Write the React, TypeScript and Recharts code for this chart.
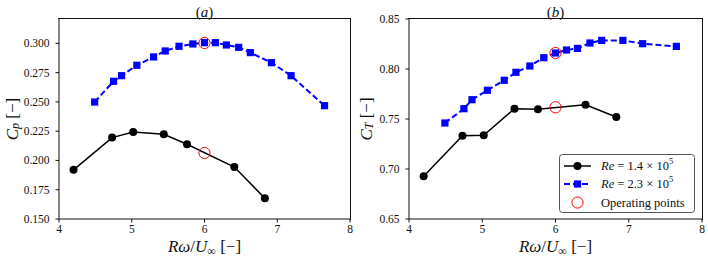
import React from 'react';
import { ComposedChart, Line, Scatter, XAxis, YAxis, Label } from 'recharts';

const tsrLow = [4.2, 4.73, 5.02, 5.44, 5.76, 6.41, 6.83];
const cpLow = [0.192, 0.2195, 0.2243, 0.2223, 0.2138, 0.1944, 0.1677];
const ctLow = [0.6927, 0.7333, 0.7337, 0.7603, 0.7597, 0.7643, 0.752];

const tsrHigh = [4.49, 4.75, 4.86, 5.07, 5.3, 5.46, 5.65, 5.84, 6.0, 6.15, 6.3, 6.47, 6.63, 6.92, 7.19, 7.65];
const cpHigh = [0.2499, 0.2676, 0.2724, 0.2813, 0.2884, 0.2935, 0.2975, 0.2995, 0.3006, 0.3006, 0.2986, 0.2966, 0.2921, 0.2835, 0.2724, 0.2468];
const ctHigh = [0.746, 0.7603, 0.7693, 0.7787, 0.7887, 0.7967, 0.803, 0.8113, 0.816, 0.819, 0.8206, 0.826, 0.8286, 0.8286, 0.8253, 0.8226];

const opTsr = [6.0, 6.0];
const opCp = [0.2064, 0.3003];
const opCt = [0.7617, 0.816];

const xTicks = [4, 5, 6, 7, 8];
const cpTicks = [0.15, 0.175, 0.2, 0.225, 0.25, 0.275, 0.3];
const ctTicks = [0.65, 0.7, 0.75, 0.8, 0.85];

const FONT = '"Liberation Serif", "Times New Roman", serif';
const AX = '#111';
const CHART_W = 354;
const CHART_H = 259;
const TOP = 19;
const XAXIS_H = 40;
const PLOT_H = CHART_H - TOP - XAXIS_H;

const zip = (xs: number[], ys: number[]) => xs.map((x, i) => ({ x, y: ys[i] }));

const blackDot = (p: any) => <circle key={`b${p.index}`} cx={p.cx} cy={p.cy} r={4} fill="#000" stroke="none" />;
const blueDot = (p: any) => <rect key={`s${p.index}`} x={p.cx - 3.6} y={p.cy - 3.6} width={7.2} height={7.2} fill="#0000ff" stroke="none" />;
const redCircle = (p: any) => <circle cx={p.cx} cy={p.cy} r={5.6} fill="none" stroke="#ff0000" strokeWidth={1} />;

const XTick = (p: any) => (
  <text x={p.x} y={p.y} dy="0.71em" textAnchor="middle" fontFamily={FONT} fontSize={11.5} fill="#111">
    {p.payload.value}
  </text>
);

const makeYTick = (digits: number) => (p: any) => (
  <text x={p.x} y={p.y} textAnchor="end" dominantBaseline="central" fontFamily={FONT} fontSize={11.5} fill="#111">
    {Number(p.payload.value).toFixed(digits)}
  </text>
);

const XLabel = (props: any) => {
  const vb = props.viewBox;
  return (
    <text x={vb.x + vb.width / 2} y={vb.y + 33} textAnchor="middle" fontFamily={FONT} fontSize={17} fill="#111">
      <tspan fontStyle="italic">Rω</tspan>/<tspan fontStyle="italic">U</tspan>
      <tspan fontSize={12} dy={3}>∞</tspan>
      <tspan dy={-3}> [−]</tspan>
    </text>
  );
};

const makeYLabel = (sub: string) => (props: any) => {
  const vb = props.viewBox;
  const cx = 12;
  const cy = vb.y + vb.height / 2;
  return (
    <text x={cx} y={cy} transform={`rotate(-90, ${cx}, ${cy})`} textAnchor="middle" dominantBaseline="central" fontFamily={FONT} fontSize={17} fill="#111">
      <tspan fontStyle="italic">C</tspan>
      <tspan fontStyle="italic" fontSize={12} dy={3}>{sub}</tspan>
      <tspan dy={-3}> [−]</tspan>
    </text>
  );
};

type PanelProps = {
  title: string;
  low: number[];
  high: number[];
  op: number[];
  domain: [number, number];
  ticks: number[];
  digits: number;
  sub: string;
  yWidth: number;
  rightMargin: number;
};

const Panel = ({ title, low, high, op, domain, ticks, digits, sub, yWidth, rightMargin }: PanelProps) => {
  const lowData = zip(tsrLow, low);
  const highData = zip(tsrHigh, high);
  const opData = zip(opTsr, op);
  const plotW = CHART_W - rightMargin - yWidth;
  return (
    <div style={{ position: 'relative', width: CHART_W, height: CHART_H }}>
      <ComposedChart width={CHART_W} height={CHART_H} margin={{ top: TOP, right: rightMargin, bottom: 0, left: 0 }} style={{ fontFamily: FONT }}>
        <XAxis
          dataKey="x"
          type="number"
          domain={[4, 8]}
          ticks={xTicks}
          allowDataOverflow
          height={XAXIS_H}
          tickSize={3.5}
          tickMargin={2}
          stroke={AX}
          tickLine={{ stroke: AX }}
          tick={XTick}
        >
          <Label content={XLabel} />
        </XAxis>
        <YAxis
          type="number"
          domain={domain}
          ticks={ticks}
          allowDataOverflow
          width={yWidth}
          tickSize={3.5}
          tickMargin={6}
          stroke={AX}
          tickLine={{ stroke: AX }}
          tick={makeYTick(digits)}
        >
          <Label content={makeYLabel(sub)} />
        </YAxis>
        <Line
          data={highData}
          dataKey="y"
          type="linear"
          stroke="#0000ff"
          strokeWidth={2}
          strokeDasharray="6 3"
          dot={blueDot}
          activeDot={false}
          isAnimationActive={false}
        />
        <Line
          data={lowData}
          dataKey="y"
          type="linear"
          stroke="#000"
          strokeWidth={1.5}
          dot={blackDot}
          activeDot={false}
          isAnimationActive={false}
        />
        <Scatter data={opData} dataKey="y" shape={redCircle} isAnimationActive={false} />
        <text x={yWidth + plotW / 2} y={12} textAnchor="middle" dominantBaseline="central" fontFamily={FONT} fontSize={15} fill="#111">
          (<tspan fontStyle="italic">{title}</tspan>)
        </text>
      </ComposedChart>
      <div
        style={{
          position: 'absolute',
          left: yWidth - 1,
          top: TOP - 1,
          width: plotW + 2,
          height: PLOT_H + 2,
          boxSizing: 'border-box',
          borderTop: `1.5px solid ${AX}`,
          borderRight: `1.5px solid ${AX}`,
          pointerEvents: 'none',
          zIndex: 5,
        }}
      />
    </div>
  );
};

const LegendBox = () => (
  <svg width={138} height={61} style={{ position: 'absolute', left: 558, top: 152.5 }}>
    <rect x={1.5} y={1.5} width={135} height={58} rx={3} ry={3} fill="rgba(255,255,255,0.85)" stroke="#555" strokeWidth={1} />
    <g fontFamily={FONT} fontSize={12.5} fill="#111">
      <line x1={6} y1={13} x2={33} y2={13} stroke="#000" strokeWidth={1.5} />
      <circle cx={19.5} cy={13} r={4} fill="#000" />
      <text x={43} y={13} dominantBaseline="central">
        <tspan fontStyle="italic">Re</tspan> = 1.4 × 10<tspan fontSize={8.5} dy={-5}>5</tspan>
      </text>
      <line x1={6} y1={31} x2={33} y2={31} stroke="#0000ff" strokeWidth={2} strokeDasharray="6 3" />
      <rect x={15.9} y={27.4} width={7.2} height={7.2} fill="#0000ff" />
      <text x={43} y={31} dominantBaseline="central">
        <tspan fontStyle="italic">Re</tspan> = 2.3 × 10<tspan fontSize={8.5} dy={-5}>5</tspan>
      </text>
      <circle cx={19.5} cy={49.5} r={5.6} fill="none" stroke="#ff0000" strokeWidth={1} />
      <text x={43} y={49.5} dominantBaseline="central">Operating points</text>
    </g>
  </svg>
);

export default function App() {
  return (
    <div style={{ position: 'absolute', left: 0, top: 0, width: 708, height: 259, background: '#fff' }}>
      <div style={{ position: 'absolute', left: 0, top: 0 }}>
        <Panel title="a" low={cpLow} high={cpHigh} op={opCp} domain={[0.15, 0.3208]} ticks={cpTicks} digits={3} sub="p" yWidth={59} rightMargin={4} />
      </div>
      <div style={{ position: 'absolute', left: 354, top: 0 }}>
        <Panel title="b" low={ctLow} high={ctHigh} op={opCt} domain={[0.65, 0.85]} ticks={ctTicks} digits={2} sub="T" yWidth={55} rightMargin={6} />
      </div>
      <LegendBox />
    </div>
  );
}
